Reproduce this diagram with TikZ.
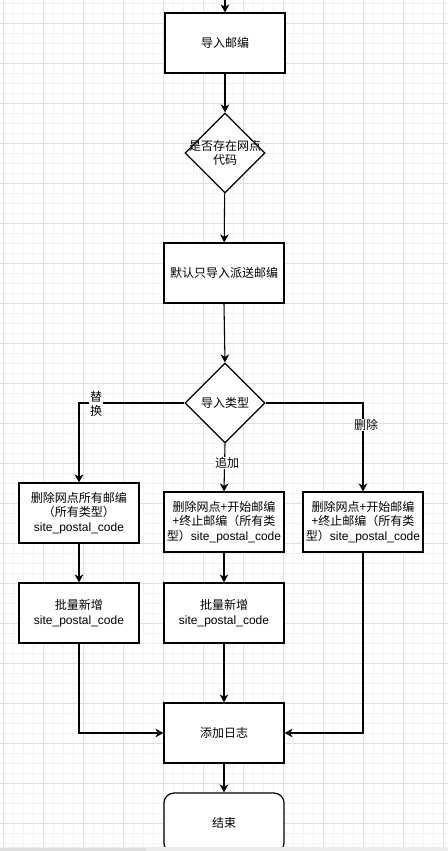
\documentclass[tikz,border=0pt]{standalone}
\usepackage{fontspec}
\setmainfont{Liberation Sans}
\newfontfamily\cjkf{Noto Sans CJK SC}
\newcommand\zh[1]{{\cjkf #1}}
\usetikzlibrary{shapes.geometric,arrows.meta}
\definecolor{gridminor}{RGB}{242,242,242}
\definecolor{gridmajor}{RGB}{224,224,224}
\definecolor{barbg}{RGB}{236,236,236}
\definecolor{barthumb}{RGB}{222,222,222}
\tikzset{
  box/.style={draw=black, line width=0.9pt, fill=white, minimum width=90pt, minimum height=45pt, inner sep=0pt, align=center, font=\fontsize{9}{10.9}\selectfont},
  endbox/.style={box, rounded corners=7.5pt},
  dec/.style={draw=black, line width=0.9pt, fill=white, diamond, minimum width=60pt, minimum height=60pt, inner sep=0pt},
  dectext/.style={align=center, font=\fontsize{9}{10.9}\selectfont},
  conn/.style={draw=black, line width=0.8pt, -{Stealth[length=6pt,width=6.5pt,inset=1.8pt]}},
  lab/.style={fill=white, inner sep=0.5pt, align=center, font=\fontsize{9}{10.5}\selectfont}
}
\begin{document}
\begin{tikzpicture}[x=0.75pt,y=-0.75pt]
\useasboundingbox (0,0) rectangle (448,851);
\fill[white] (0,0) rectangle (448,851);
% grid
\foreach \x in {3,13,...,443} \draw[gridminor, line width=0.6pt] (\x,0) -- (\x,851);
\foreach \y in {3,13,...,843} \draw[gridminor, line width=0.6pt] (0,\y) -- (448,\y);
\foreach \x in {3,43,...,443} \draw[gridmajor, line width=0.6pt] (\x,0) -- (\x,851);
\foreach \y in {23,63,...,823} \draw[gridmajor, line width=0.6pt] (0,\y) -- (448,\y);

\coordinate (top) at (225,-5);
\node[box] (b1) at (225,43) {\zh{导入邮编}};
\node[dec, label={[dectext]center:\zh{是否存在网点}\\\zh{代码}}] (d1) at (225,153) {};
\node[box] (b2) at (224,273) {\zh{默认只导入派送邮编}};
\node[dec, label={[dectext]center:\zh{导入类型}}] (d2) at (225,403) {};
\node[box] (L1) at (79,513) {\zh{删除网点所有邮编}\\\zh{（所有类型）}\\site\_postal\_code};
\node[box] (M1) at (224,522) {\zh{删除网点+开始邮编}\\\zh{+终止邮编（所有类}\\\zh{型）}site\_postal\_code};
\node[box] (R1) at (363,522) {\zh{删除网点+开始邮编}\\\zh{+终止邮编（所有类}\\\zh{型）}site\_postal\_code};
\node[box] (L2) at (79,613) {\zh{批量新增}\\site\_postal\_code};
\node[box] (M2) at (224,613) {\zh{批量新增}\\site\_postal\_code};
\node[box] (log) at (224,733) {\zh{添加日志}};
\node[endbox] (end) at (224,823) {\zh{结束}};

\draw[conn] (top) -- (b1);
\draw[conn] (b1) -- (d1);
\draw[conn] (d1) -- (b2);
\draw[conn] (b2.south) -- (d2.north);
\draw[conn] (d2.west) -| (L1.north);
\draw[conn] (d2.south) -- (M1.north);
\draw[conn] (d2.east) -| (R1.north);
\draw[conn] (L1) -- (L2);
\draw[conn] (M1) -- (M2);
\draw[conn] (L2.south) |- (log.west);
\draw[conn] (M2) -- (log);
\draw[conn] (R1.south) |- (log.east);
\draw[conn] (log) -- (end);

\node[lab] (lt) at (96,404) {\zh{替}\\\zh{换}};
\node[lab] (la) at (227,463) {\zh{追加}};
\node[lab] (ld) at (366,425) {\zh{删除}};

% scrollbar strip
\fill[barbg] (0,847) rectangle (448,851);
\fill[barthumb] (0,847.5) rectangle (146,851);
\end{tikzpicture}
\end{document}
